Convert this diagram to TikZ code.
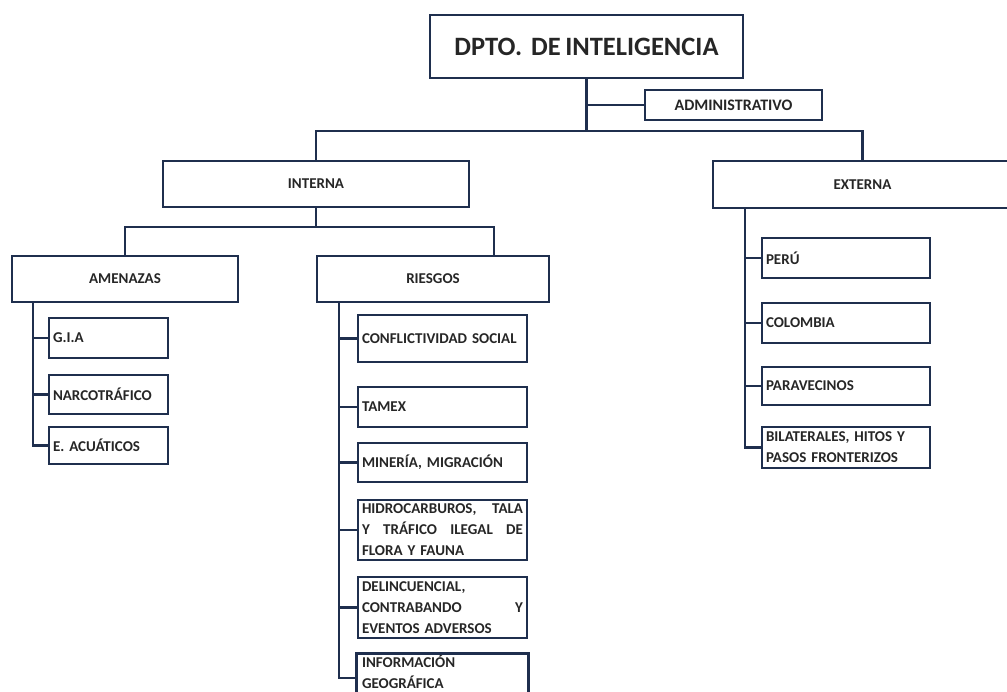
\documentclass[tikz,border=0pt]{standalone}
\usepackage{fontspec}
\setmainfont{Carlito}[WordSpace=0.75]
\usepackage{xcolor}
\usepackage{tikz}
\frenchspacing

\definecolor{boxline}{HTML}{1F2F4E}
\definecolor{boxtext}{HTML}{262626}

\tikzset{
  conn/.style={draw=boxline, line width=2.6pt},
  unit/.style={draw=boxline, line width=2.6pt, fill=white, text=boxtext, inner sep=0pt,
    font=\fontsize{15}{21}\selectfont\bfseries},
  leaf/.style={unit, inner xsep=4pt, align=left, text width=#1},
}

\begin{document}
\begin{tikzpicture}[x=1pt,y=-1pt]
\useasboundingbox (0,0) rectangle (1007,691);

% head and its staff unit
\node[unit, minimum width=313pt, minimum height=63pt, font=\fontsize{26.5}{30}\selectfont\bfseries] (dpto) at (586.5,46.5) {DPTO.~~DE INTELIGENCIA};
\node[unit, minimum width=177pt, minimum height=30pt, font=\fontsize{16}{20}\selectfont\bfseries] (admin) at (733.5,105) {ADMINISTRATIVO};

% second level
\node[unit, minimum width=306pt, minimum height=46pt] (interna) at (316,184) {INTERNA};
\node[unit, minimum width=299pt, minimum height=47pt] (externa) at (862.5,184.5) {EXTERNA};

% third level
\node[unit, minimum width=226pt, minimum height=46pt] (amenazas) at (125,279) {AMENAZAS};
\node[unit, minimum width=232pt, minimum height=46pt] (riesgos) at (433,279) {RIESGOS};

% amenazas
\node[leaf=111pt, minimum height=40pt] (gia) at (108.5,338) {G.I.A};
\node[leaf=111pt, minimum height=39pt] (narco) at (108.5,394.5) {NARCOTRÁFICO};
\node[leaf=111pt, minimum height=37pt] (eacu) at (108.5,445.5) {E. ACUÁTICOS};

% riesgos
\node[leaf=161pt, minimum height=47pt] (conflict) at (442.5,338.5) {CONFLICTIVIDAD SOCIAL};
\node[leaf=161pt, minimum height=40pt] (tamex) at (442.5,407) {TAMEX};
\node[leaf=161pt, minimum height=39pt] (mineria) at (442.5,462.5) {MINERÍA, MIGRACIÓN};
\node[leaf=161pt, minimum height=60pt] (hidro) at (442.5,530) {HIDROCARBUROS,\hfill TALA\\Y\hfill TRÁFICO\hfill ILEGAL\hfill DE\\FLORA Y FAUNA};
\node[leaf=161pt, minimum height=61pt] (delinc) at (442.5,607.5) {DELINCUENCIAL,\\CONTRABANDO\hfill Y\\EVENTOS ADVERSOS};
\node[leaf=161pt, minimum height=34pt, draw=none, fill=none] (info) at (442.5,672) {INFORMACIÓN\\GEOGRÁFICA};
\draw[conn] ([yshift=-24pt]info.south west) |- (info.north east) -- ([yshift=-24pt]info.south east);

% externa
\node[leaf=160pt, minimum height=40pt] (peru) at (846,258) {PERÚ};
\node[leaf=160pt, minimum height=40pt] (colombia) at (846,323) {COLOMBIA};
\node[leaf=160pt, minimum height=38pt] (paravec) at (846,386) {PARAVECINOS};
\node[leaf=160pt, minimum height=41pt] (bilat) at (846,447.5) {BILATERALES, HITOS Y\\PASOS FRONTERIZOS};

% connectors
\coordinate (hub) at (586.5,131);
\coordinate (isplit) at (316,227);
\coordinate (rdrop) at (494,227);
\coordinate (aspine) at (33,302);
\coordinate (rspine) at (339,302);
\coordinate (espine) at (745,208);

\draw[conn] (dpto.south) -- (hub);
\draw[conn] (dpto.south |- admin.west) -- (admin.west);
\draw[conn] (interna.north) |- (hub) -| (externa.north);

\draw[conn] (interna.south) -- (isplit);
\draw[conn] (amenazas.north) |- (rdrop) -- (rdrop |- riesgos.north);

\draw[conn] (aspine) |- (eacu.west);
\foreach \n in {gia,narco}
  \draw[conn] (aspine |- \n.west) -- (\n.west);

\draw[conn] (rspine) |- ([yshift=-6pt]info.west);
\foreach \n in {conflict,tamex,mineria,hidro,delinc}
  \draw[conn] (rspine |- \n.west) -- (\n.west);

\draw[conn] (espine) |- (bilat.west);
\foreach \n in {peru,colombia,paravec}
  \draw[conn] (espine |- \n.west) -- (\n.west);
\end{tikzpicture}
\end{document}
